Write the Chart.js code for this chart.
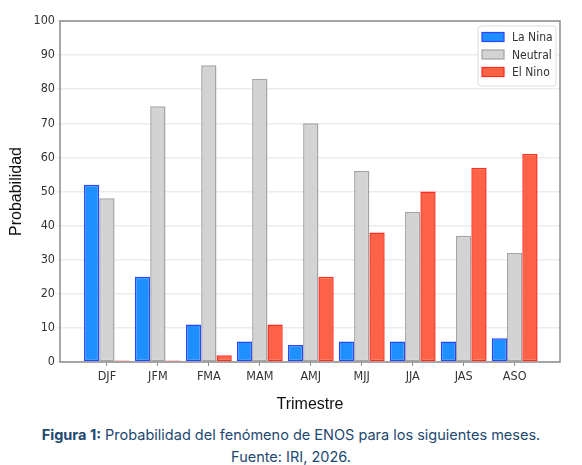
<!DOCTYPE html>
<html>
<head>
<meta charset="utf-8">
<script src="https://cdn.jsdelivr.net/npm/chart.js@4"></script>
<style>
  body { margin: 0; background: #fff; }
  #wrap { position: relative; width: 582px; height: 465px; }
  #chart-box { position: absolute; left: 0; top: 0; width: 582px; height: 420px; }
  .caption {
    position: absolute; left: 0; top: 424px; width: 582px;
    text-align: center; font-family: Inter, "Noto Sans", sans-serif;
    font-size: 14.5px; line-height: 22px; color: #1d4870;
  }
  .caption b { font-weight: 700; }
</style>
</head>
<body>
<div id="wrap">
  <div id="chart-box"><canvas id="myChart"></canvas></div>
  <div class="caption">
    <div><b>Figura 1:</b> Probabilidad del fenómeno de ENOS para los siguientes meses.</div>
    <div>Fuente: IRI, 2026.</div>
  </div>
</div>
<script>
const categories = ['DJF', 'JFM', 'FMA', 'MAM', 'AMJ', 'MJJ', 'JJA', 'JAS', 'ASO'];
const laNina = [52, 25, 11, 6, 5, 6, 6, 6, 7];
const neutral = [48, 75, 87, 83, 70, 56, 44, 37, 32];
const elNino = [0, 0, 2, 11, 25, 38, 50, 57, 61];
const seriesNames = ['La Nina', 'Neutral', 'El Nino'];
const yTicks = [0, 10, 20, 30, 40, 50, 60, 70, 80, 90, 100];

const toPoints = arr => arr.map((v, i) => ({ x: i, y: v }));

// frame round the plot area, like the matplotlib axes box
const frame = {
  id: 'frame',
  afterDatasetsDraw(chart) {
    const a = chart.chartArea, ctx = chart.ctx;
    ctx.save();
    ctx.strokeStyle = '#8c8c8c';
    ctx.lineWidth = 1.5;
    ctx.strokeRect(a.left, a.top, a.right - a.left, a.bottom - a.top);
    ctx.restore();
  }
};

// legend box inside the top right corner
const insideLegend = {
  id: 'insideLegend',
  afterDraw(chart) {
    const a = chart.chartArea, ctx = chart.ctx;
    const w = 78, h = 60;
    const x = a.right - 4 - w, y = a.top + 5;
    ctx.save();
    ctx.fillStyle = 'rgba(255,255,255,0.9)';
    ctx.strokeStyle = '#dddddd';
    ctx.lineWidth = 1;
    ctx.beginPath();
    ctx.roundRect(x, y, w, h, 3);
    ctx.fill();
    ctx.stroke();
    ctx.font = '12px "DejaVu Sans Condensed", "DejaVu Sans", sans-serif';
    ctx.textBaseline = 'middle';
    chart.data.datasets.forEach((ds, i) => {
      const ry = y + 11 + i * 17.5;
      ctx.fillStyle = ds.backgroundColor;
      ctx.strokeStyle = ds.borderColor;
      ctx.lineWidth = 1.2;
      ctx.fillRect(x + 4, ry - 4.5, 22, 9);
      ctx.strokeRect(x + 4, ry - 4.5, 22, 9);
      ctx.fillStyle = '#333';
      ctx.fillText(ds.label, x + 34, ry + 1);
    });
    ctx.restore();
  }
};

const ctx = document.getElementById('myChart').getContext('2d');
const chart = new Chart(ctx, {
  type: 'bar',
  data: {
    datasets: [
      { label: seriesNames[0], data: toPoints(laNina), backgroundColor: '#1e8fff', borderColor: '#2b45ff' },
      { label: seriesNames[1], data: toPoints(neutral), backgroundColor: '#d3d3d3', borderColor: '#a3a3a3' },
      { label: seriesNames[2], data: toPoints(elNino), backgroundColor: '#ff6347', borderColor: '#ff2b1f', minBarLength: 1.5 }
    ]
  },
  options: {
    responsive: true,
    maintainAspectRatio: false,
    animation: false,
    layout: { padding: { top: 21, right: 22, left: 0, bottom: 6 } },
    datasets: {
      bar: { borderWidth: 1.5, borderSkipped: false, categoryPercentage: 0.9, barPercentage: 1.0 }
    },
    plugins: { legend: { display: false }, tooltip: { enabled: false } },
    scales: {
      x: {
        type: 'linear',
        offset: false,
        min: -0.92,
        max: 8.89,
        afterBuildTicks: axis => { axis.ticks = categories.map((c, i) => ({ value: i })); },
        afterFit: axis => { axis.height = 52; },
        ticks: {
          autoSkip: false,
          maxRotation: 0,
          padding: 3,
          color: '#333',
          font: { family: '"DejaVu Sans Condensed", "DejaVu Sans", sans-serif', size: 12.5 },
          callback: v => categories[v]
        },
        grid: { display: true, drawOnChartArea: false, drawTicks: true, tickLength: 4, color: '#8c8c8c', offset: false },
        border: { display: false },
        title: {
          display: true, text: 'Trimestre', color: '#111',
          font: { family: '"Liberation Sans", Arial, sans-serif', size: 16 },
          padding: { top: 14, bottom: 0 }
        }
      },
      y: {
        min: 0,
        max: 100,
        afterBuildTicks: axis => { axis.ticks = yTicks.map(v => ({ value: v })); },
        afterFit: axis => { axis.width = 60; },
        ticks: {
          padding: 2,
          color: '#333',
          font: { family: '"DejaVu Sans Condensed", "DejaVu Sans", sans-serif', size: 12.5 }
        },
        grid: { color: '#ececec', lineWidth: 1.5, tickLength: 3, drawTicks: true },
        border: { display: false },
        title: {
          display: true, text: 'Probabilidad', color: '#111',
          font: { family: '"Liberation Sans", Arial, sans-serif', size: 16 },
          padding: { top: 7, bottom: 0 }
        }
      }
    }
  },
  plugins: [frame, insideLegend]
});
</script>
</body>
</html>
